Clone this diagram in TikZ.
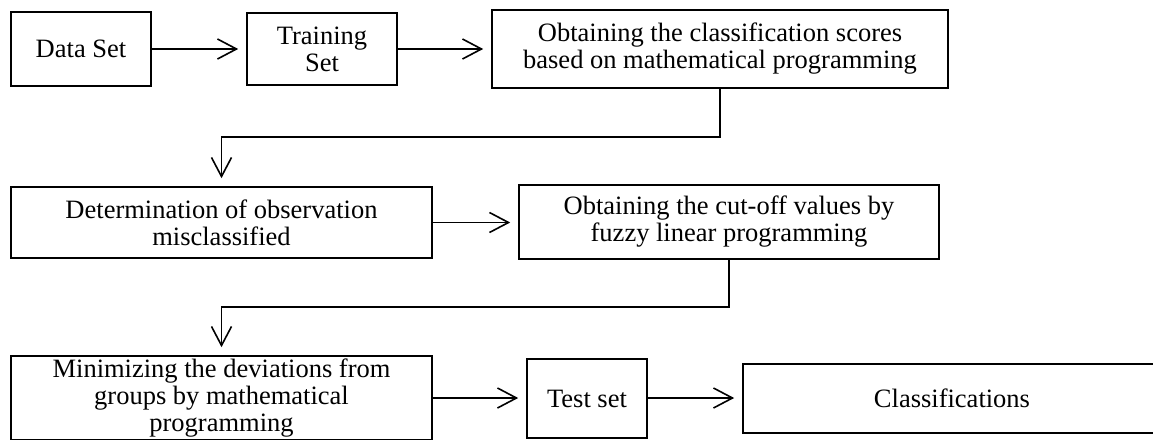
\documentclass[tikz,border=0pt]{standalone}
\usepackage{fontspec}
\setmainfont{Liberation Serif}
\usetikzlibrary{arrows.meta}
\tikzset{
  box/.style={draw, line width=1.6pt, inner sep=0pt, align=center,
    font=\fontsize{26.5}{27}\selectfont},
  flow/.style={line width=1.6pt, shorten >=8pt,
    -{Straight Barb[length=19pt,width=20pt,line width=1.6pt]}},
}
\begin{document}
\begin{tikzpicture}[x=1pt,y=-1pt]
\useasboundingbox (0,0) rectangle (1153,439);
\node[box, minimum width=140pt, minimum height=74pt] (data) at (81,49) {Data Set};
\node[box, minimum width=150pt, minimum height=72pt] (train) at (322,49) {Training\\Set};
\node[box, minimum width=456pt, minimum height=78pt] (scores) at (720,49) {Obtaining the classification scores\\based on mathematical programming};
\node[box, minimum width=421pt, minimum height=71pt] (determ) at (221.5,222.5) {Determination of observation\\misclassified};
\node[box, minimum width=420pt, minimum height=74pt] (cutoff) at (729,222) {Obtaining the cut-off values by\\fuzzy linear programming};
\node[box, minimum width=421pt, minimum height=84pt] (minim) at (221.5,398) {Minimizing the deviations from\\groups by mathematical\\programming};
\node[box, minimum width=120pt, minimum height=79pt] (test) at (587,398.5) {Test set};
\node[box, minimum width=418pt, minimum height=69pt] (classif) at (952,398.5) {Classifications};
\coordinate (e1a) at (720,137);
\coordinate (e1b) at (221.5,137);
\coordinate (e2a) at (729,307);
\coordinate (e2b) at (221.5,307);
\draw[flow] (data.east |- 0,49) -- (train.west |- 0,49);
\draw[flow] (train.east |- 0,49) -- (scores.west |- 0,49);
\draw[flow] (scores.south) -- (e1a) -- (e1b) -- (determ.north);
\draw[flow] (determ.east) -- (cutoff.west |- determ.east);
\draw[flow] (cutoff.south) -- (e2a) -- (e2b) -- (minim.north);
\draw[flow] (minim.east) -- (test.west |- minim.east);
\draw[flow] (test.east |- minim.east) -- (classif.west |- minim.east);
\end{tikzpicture}
\end{document}
